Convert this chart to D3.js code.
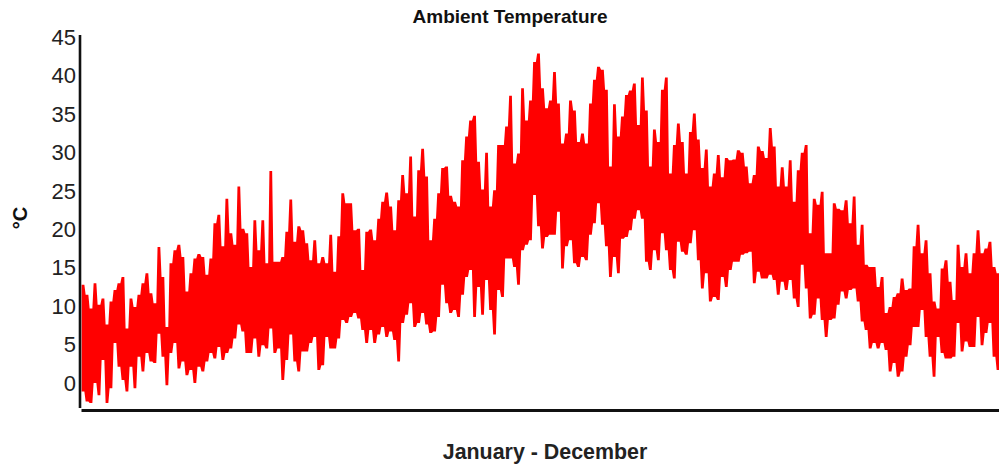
<!DOCTYPE html>
<html><head><meta charset="utf-8">
<script src="https://cdn.jsdelivr.net/npm/d3@7/dist/d3.min.js"></script>
<style>html,body{margin:0;padding:0;background:#fff}svg{display:block}text{font-family:"Liberation Sans",Arial,sans-serif}</style>
</head><body><svg id="c" width="999" height="470"></svg>
<script>
const title = "Ambient Temperature";
const xTitle = "January - December";
const yTitle = "°C";
const yTicks = [0,5,10,15,20,25,30,35,40,45];
const highs = [
12.8,11.5,9.7,13,10.2,11,7.6,10.6,12.1,13,
13.8,7.1,11,9.9,11.5,13,14.3,11.7,10.4,17.7,
13.8,7.3,15.6,17.3,18,16.4,11.9,14.3,16.2,16.8,
16.4,14.1,16.2,20.8,21.9,17.8,24,19.5,18,25.6,
20.1,19.5,15.1,21.2,17.3,21.2,15.6,27.6,15.8,15.8,
16.4,19.7,23.9,18.4,20.4,19.9,18.2,16,18.6,15.6,
16.4,15.6,19.3,14.5,19.1,
24.7,23.4,23.4,19.9,20.1,14.7,19.7,20,18.6,21.4,
23.6,24.8,23,19.9,23.8,27.1,24.7,29.5,21.7,27.7,
30.5,26.9,18.6,21.4,24.7,28,28.2,24.4,23.6,23,
29,32.1,34.2,34.8,28.8,25.2,30,23,25.1,31,
31,33.4,37.4,28.6,29.9,38.4,34.2,36.8,41.8,42.9,
38.4,35.8,36.8,40.5,36.4,31.2,32.5,36.8,35.5,31.4,
32.5,31.2,36.4,39.5,41.2,40.8,38.2,28.2,36.3,32.1,
34.7,37.5,38.1,39,33.6,39.8,35.5,28.2,33,31.4,
38.2,39.8,27.3,
31,33.8,31.4,27.3,32.7,35.1,31.7,28,30.4,25.6,
27.3,29.7,26.8,29.3,29,29.1,30.3,30,28.2,26,
27.1,30.8,30.2,29.3,33.2,30.8,25.6,28.1,25.6,29,
23.6,27.7,30,31,19.5,24,23.2,24.9,16.9,16.9,
23.4,22.7,22.5,23.8,20.8,24.3,18,20.6,15.4,15.1,
15.1,12.5,13.8,9.1,9.9,11.2,11.7,13.6,12.1,12.3,
17.8,20.6,16.9,18.6,14.3,10.6,9.7,14.9,16,13.2,
10.8,18,15.1,16.9,14.3,16.9,19.9,16.9,17.5,18.4,
15.1,14.3];
const lows = [
-1.1,-2.4,-2.6,0,-1.6,3,-2.6,-.7,5.2,2.1,
.4,-1.1,2.1,-.7,3.4,1.5,3.9,2.8,2.6,6.4,
3.4,-.3,3.9,5.2,1.9,2.8,1,1.7,0,2.1,
1.5,2.8,3.9,3.2,4.7,3,3.9,4.5,5.8,7.6,
6.7,3.9,3.9,5.8,3.4,4.9,4.5,7.1,3.9,4.5,
.4,3,6.3,2.8,1.5,4.1,4.1,5.2,6,1.7,
2.3,6,4.5,4.5,5.8,
8.2,7.8,8.6,9.1,8.4,6.9,5.2,6.9,5.2,6.3,
7.3,6,6.7,5.6,2.8,7.8,8.9,10.4,7.3,7.8,
9.1,7.6,6.5,6.7,8.6,12.8,10.4,9.1,9.5,8.6,
11.5,13.8,14.7,8.6,12.5,8.9,13.4,9.5,6.3,12.1,
11.2,16.2,16.2,15.1,12.8,17.3,18,18.6,24.5,20.4,
17.5,19,19.3,19.3,22.3,14.9,17.8,18.6,15.6,15.1,
16.4,16,19.3,20.8,23.4,20.6,17.8,13.8,16.4,14.3,
18.8,19,19.9,21.4,22.5,21.4,15.8,14.7,17.3,16,
19.5,17.3,14.7,
13.6,18.4,17.1,16.7,18.2,19.9,16,12.3,14.3,10.6,
11.2,10.8,13.8,12.5,14.7,15.8,15.8,16.7,16.9,17.1,
13,14.5,13.6,13.6,14.1,13.4,11.5,13.2,12.1,13.4,
11,9.9,15.4,12.3,8.4,8.9,11,8.2,6,8.2,
8.4,10.2,11.9,11,12.1,12.3,10.6,8,6.9,4.5,
5.2,4.5,5.2,4.3,1.5,2.6,.8,1.5,3.4,4.9,
7.3,7.3,9.5,6,3.4,.8,6,3.9,3.2,3.2,
3.4,7.8,4.1,5.4,4.7,4.7,8.6,4.9,6.5,7.8,
3.4,1.7];

const svg = d3.select("#c");
const x = d3.scaleLinear().domain([0,highs.length-1]).range([83,998]);
const y = d3.scaleLinear().domain([-3.3,45]).range([408.3,37.5]);

// One continuous red shape: each sample's swing keeps a narrow flat top and bottom.
const flat = 0.34;
const swings = highs.flatMap((h,i)=>[{t:i-flat,h,l:lows[i]},{t:i+flat,h,l:lows[i]}]);
svg.append("path").datum(swings).attr("fill","#ff0000")
  .attr("d",d3.area().x(d=>x(d.t)).y1(d=>y(d.h)).y0(d=>y(d.l)));

const ya = svg.append("g").attr("transform","translate(80,0)")
  .call(d3.axisLeft(y).tickValues(yTicks).tickSize(0).tickPadding(4).tickFormat(d3.format("d")));
ya.select(".domain").attr("stroke","#111").attr("stroke-width",2.6).attr("d","M0,35V408");
ya.selectAll("text").attr("font-size",22).attr("fill","#222").style("font-family",'"Liberation Sans",Arial,sans-serif');

const xa = svg.append("g").attr("transform","translate(0,410)")
  .call(d3.axisBottom(d3.scaleLinear().domain([0,1]).range([81,999])).tickValues([]).tickSizeOuter(0));
xa.select(".domain").attr("stroke","#111").attr("stroke-width",2.8);

svg.append("text").attr("x",510).attr("y",22.5).attr("text-anchor","middle")
  .attr("font-size",19).attr("font-weight","bold").attr("fill","#111").text(title);
svg.append("text").attr("x",545).attr("y",459).attr("text-anchor","middle")
  .attr("font-size",21.4).attr("font-weight","bold").attr("fill","#222").text(xTitle);
svg.append("text").attr("transform","translate(27,218) rotate(-90)").attr("text-anchor","middle")
  .attr("font-size",20).attr("font-weight","bold").attr("fill","#111").text(yTitle);
</script></body></html>
